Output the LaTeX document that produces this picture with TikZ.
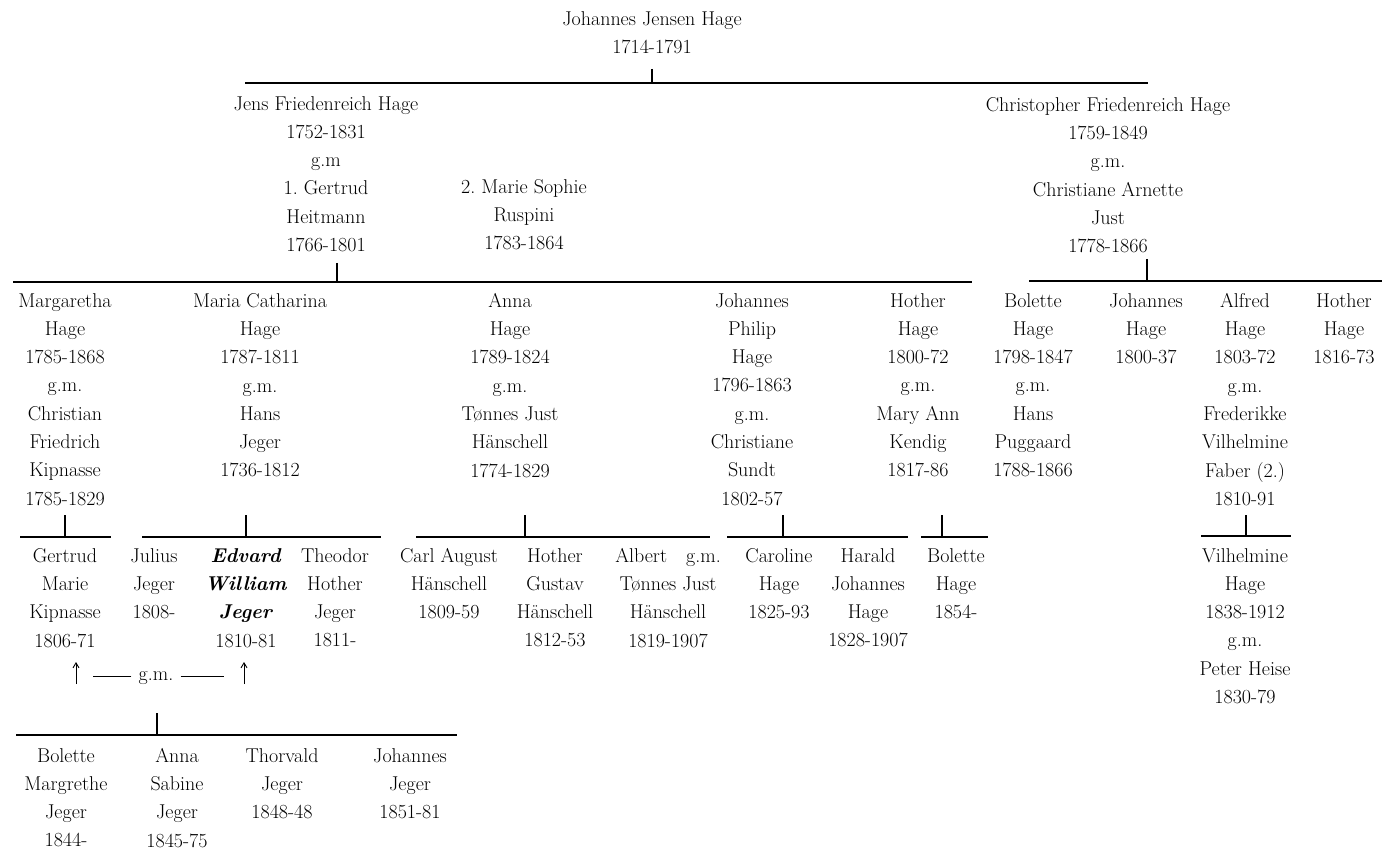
\documentclass[tikz,border=0pt]{standalone}
\usepackage{fontspec}
\usetikzlibrary{arrows.meta}
\frenchspacing
\newcommand\famfont{\fontsize{20}{28.3}\selectfont\addfontfeatures{LetterSpace=4,FakeBold=0.6}\frenchspacing}
\newcommand\bi[1]{\textbf{\textit{#1}}}
\begin{document}
\begin{tikzpicture}[x=1pt,y=-1pt,
  person/.style={align=center, anchor=north, inner sep=0pt, font=\famfont, execute at begin node=\strut},
  plain/.style={inner sep=0pt, font=\famfont},
  bar/.style={line width=1.6pt},
  stem/.style={line width=1.2pt},
  uparrow/.style={line width=0.9pt, -{Straight Barb[length=5pt,width=6pt]}}]
\useasboundingbox (0,0) rectangle (1382,850);

% generation 0
\node[person] (root) at (652,11) {Johannes Jensen Hage\\1714-1791};
\coordinate (r0a) at (652,69); \coordinate (r0b) at (652,83);
\coordinate (b0L) at (245,83); \coordinate (b0R) at (1148,83);
\draw[stem] (r0a) -- (r0b);
\draw[bar] (b0L) -- (b0R);

% generation 1
\node[person] (jens) at (326,96) {Jens Friedenreich Hage\\1752-1831\\g.m\\1. Gertrud\\Heitmann\\1766-1801};
\node[person] (marie) at (524,179) {2. Marie Sophie\\Ruspini\\1783-1864};
\node[person] (chris) at (1108,97) {Christopher Friedenreich Hage\\1759-1849\\g.m.\\Christiane Arnette\\Just\\1778-1866};

\coordinate (j1a) at (337,263); \coordinate (j1b) at (337,282);
\coordinate (b1L) at (13,282); \coordinate (b1R) at (972,282);
\draw[stem] (j1a) -- (j1b);
\draw[bar] (b1L) -- (b1R);
\coordinate (c1a) at (1147,259); \coordinate (c1b) at (1147,281);
\coordinate (b2L) at (1029,281); \coordinate (b2R) at (1382,281);
\draw[stem] (c1a) -- (c1b);
\draw[bar] (b2L) -- (b2R);

% generation 2
\node[person] (marg) at (65,293) {Margaretha\\Hage\\1785-1868\\g.m.\\Christian\\Friedrich\\Kipnasse\\1785-1829};
\node[person] (mcat) at (260,293) {Maria Catharina\\Hage\\1787-1811\\g.m.\\Hans\\Jeger\\1736-1812};
\node[person] (anna) at (510,293) {Anna\\Hage\\1789-1824\\g.m.\\Tønnes Just\\Hänschell\\1774-1829};
\node[person] (jphil) at (752,293) {Johannes\\Philip\\Hage\\1796-1863\\g.m.\\Christiane\\Sundt\\1802-57};
\node[person] (hoth1) at (918,293) {Hother\\Hage\\1800-72\\g.m.\\Mary Ann\\Kendig\\1817-86};
\node[person] (bol1) at (1033,293) {Bolette\\Hage\\1798-1847\\g.m.\\Hans\\Puggaard\\1788-1866};
\node[person] (joh2) at (1146,293) {Johannes\\Hage\\1800-37};
\node[person] (alf) at (1245,293) {Alfred\\Hage\\1803-72\\g.m.\\Frederikke\\Vilhelmine\\Faber (2.)\\1810-91};
\node[person] (hoth2) at (1344,293) {Hother\\Hage\\1816-73};

% family bars below generation 2
\coordinate (m1a) at (65,515); \coordinate (m1b) at (65,537);
\coordinate (m1L) at (20,537); \coordinate (m1R) at (111,537);
\draw[stem] (m1a) -- (m1b); \draw[bar] (m1L) -- (m1R);
\coordinate (m2a) at (246,515); \coordinate (m2b) at (246,537);
\coordinate (m2L) at (142,537); \coordinate (m2R) at (381,537);
\draw[stem] (m2a) -- (m2b); \draw[bar] (m2L) -- (m2R);
\coordinate (m3a) at (525,515); \coordinate (m3b) at (525,537);
\coordinate (m3L) at (416,537); \coordinate (m3R) at (710,537);
\draw[stem] (m3a) -- (m3b); \draw[bar] (m3L) -- (m3R);
\coordinate (m4a) at (783,515); \coordinate (m4b) at (783,537);
\coordinate (m4L) at (727,537); \coordinate (m4R) at (908,537);
\draw[stem] (m4a) -- (m4b); \draw[bar] (m4L) -- (m4R);
\coordinate (m5a) at (942,515); \coordinate (m5b) at (942,537);
\coordinate (m5L) at (921,537); \coordinate (m5R) at (988,537);
\draw[stem] (m5a) -- (m5b); \draw[bar] (m5L) -- (m5R);
\coordinate (m6a) at (1246,515); \coordinate (m6b) at (1246,536);
\coordinate (m6L) at (1201,536); \coordinate (m6R) at (1291,536);
\draw[stem] (m6a) -- (m6b); \draw[bar] (m6L) -- (m6R);

% generation 3
\node[person] (gert) at (65,548) {Gertrud\\Marie\\Kipnasse\\1806-71};
\node[person] (jul) at (154,548) {Julius\\Jeger\\1808-};
\node[person] (edv) at (246,548) {\bi{Edvard}\\\bi{William}\\\bi{Jeger}\\1810-81};
\node[person] (theo) at (335,548) {Theodor\\Hother\\Jeger\\1811-};
\node[person] (carl) at (449,548) {Carl August\\Hänschell\\1809-59};
\node[person] (hgus) at (555,548) {Hother\\Gustav\\Hänschell\\1812-53};
\node[person] (alb) at (668,548) {Albert\hspace{19pt}g.m.\\Tønnes Just\\Hänschell\\1819-1907};
\node[person] (car) at (779,548) {Caroline\\Hage\\1825-93};
\node[person] (har) at (868,548) {Harald\\Johannes\\Hage\\1828-1907};
\node[person] (bol2) at (956,548) {Bolette\\Hage\\1854-};
\node[person] (vil) at (1245,548) {Vilhelmine\\Hage\\1838-1912\\g.m.\\Peter Heise\\1830-79};

% marriage of Gertrud and Edvard
\node[plain] (gm) at (156,678) {g.m.};
\coordinate (aG0) at (76,684); \coordinate (aG1) at (76,662);
\coordinate (aE0) at (244,684); \coordinate (aE1) at (244,662);
\draw[uparrow] (aG0) -- (aG1);
\draw[uparrow] (aE0) -- (aE1);
\draw[line width=1pt] ([xshift=-7pt,yshift=2pt]gm.west) -- ++(-38,0);
\draw[line width=1pt] ([xshift=7pt,yshift=2pt]gm.east) -- ++(43,0);

\coordinate (g4a) at (157,713); \coordinate (g4b) at (157,735);
\coordinate (g4L) at (16,735); \coordinate (g4R) at (457,735);
\draw[stem] (g4a) -- (g4b); \draw[bar] (g4L) -- (g4R);

% generation 4
\node[person] (bm) at (66,748) {Bolette\\Margrethe\\Jeger\\1844-};
\node[person] (as) at (177,748) {Anna\\Sabine\\Jeger\\1845-75};
\node[person] (thv) at (282,748) {Thorvald\\Jeger\\1848-48};
\node[person] (jj) at (410,748) {Johannes\\Jeger\\1851-81};
\end{tikzpicture}
\end{document}
